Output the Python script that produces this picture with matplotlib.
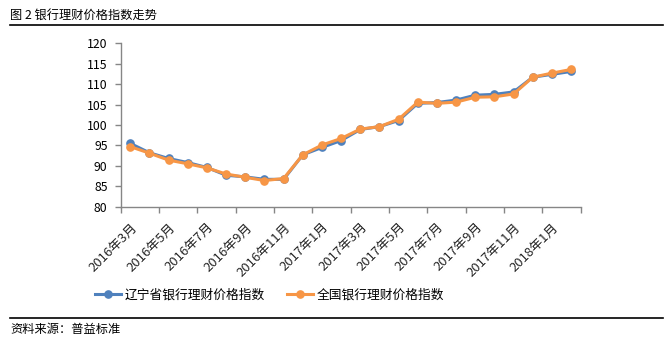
import matplotlib
matplotlib.use("Agg")
import matplotlib.pyplot as plt
from matplotlib.lines import Line2D
from matplotlib.ticker import MultipleLocator

plt.rcParams['font.family'] = ['Noto Sans CJK SC', 'DejaVu Sans']

# Monthly series, 2016年3月 .. 2018年2月
months = [f"{y}年{m}月" for y, m in
          [(2016, m) for m in range(3, 13)] +
          [(2017, m) for m in range(1, 13)] +
          [(2018, m) for m in range(1, 3)]]

liaoning = [95.5, 93.2, 91.8, 90.8, 89.6, 87.7, 87.3, 86.7, 86.7, 92.7,
            94.5, 96.2, 98.9, 99.6, 101.1, 105.3, 105.5, 106.1, 107.3, 107.5,
            108.1, 111.7, 112.4, 113.1]
national = [94.7, 93.1, 91.4, 90.5, 89.5, 88.0, 87.2, 86.4, 86.9, 92.7,
            95.1, 96.7, 99.0, 99.6, 101.4, 105.6, 105.3, 105.6, 106.8, 106.9,
            107.6, 111.7, 112.7, 113.6]

series_names = ["辽宁省银行理财价格指数", "全国银行理财价格指数"]
colors = ["#4F81BD", "#F79646"]

W, H = 670, 347
fig = plt.figure(figsize=(W / 100, H / 100), dpi=100)

left, right, top, bottom = 120.7, 580.7, 43.3, 206.7
ax = fig.add_axes([left / W, 1 - bottom / H, (right - left) / W, (bottom - top) / H])

x = list(range(len(months)))
for vals, c in zip([liaoning, national], colors):
    ax.plot(x, vals, color=c, lw=2.2, marker='o', ms=5.2,
            markeredgecolor=c, markerfacecolor=c, solid_joinstyle='round')

ax.set_xlim(-0.5, len(months) - 0.5)
ax.set_ylim(80, 120)
ax.yaxis.set_major_locator(MultipleLocator(5))

axis_gray = "#868686"
for side in ['top', 'right']:
    ax.spines[side].set_visible(False)
for side in ['left', 'bottom']:
    ax.spines[side].set_color(axis_gray)
    ax.spines[side].set_linewidth(1.0)

# tick marks on category boundaries, labels on every other month
ax.set_xticks([i - 0.5 for i in range(0, len(months) + 1, 2)])
ax.set_xticklabels([])
ax.set_xticks(x[::2], minor=True)
ax.set_xticklabels(months[::2], minor=True, rotation=45, ha='right',
                   va='top', rotation_mode='anchor', fontsize=9.4, color='#262626')
ax.tick_params(axis='x', which='major', direction='out', length=4.5,
               width=1.0, color=axis_gray)
ax.tick_params(axis='x', which='minor', length=0, pad=10)
ax.tick_params(axis='y', direction='out', length=4.5, width=1.0,
               color=axis_gray, labelsize=8.8, labelcolor='black', pad=5)

handles = [Line2D([], [], color=c, lw=2.2, marker='o', ms=5.2) for c in colors]
fig.legend(handles, series_names, loc='center',
           bbox_to_anchor=((92.7 + 446) / 2 / W, 1 - 295 / H),
           ncol=2, frameon=False, fontsize=9.2, handlelength=2.05,
           handletextpad=0.3, columnspacing=1.7, borderpad=0, borderaxespad=0)

# title, rules and source note
fig.text(10 / W, 1 - 15 / H, "图 2 银行理财价格指数走势", ha='left', va='center',
         fontsize=8.8, color='black')
fig.add_artist(Line2D([10 / W, 663 / W], [1 - 25 / H, 1 - 25 / H],
                      color='black', lw=1.2))
fig.add_artist(Line2D([10 / W, 663 / W], [1 - 317.5 / H, 1 - 317.5 / H],
                      color='black', lw=1.2))
fig.text(10 / W, 1 - 330 / H, "资料来源：普益标准", ha='left', va='center',
         fontsize=8.8, color='black')

fig.savefig("out.png", dpi=100)
